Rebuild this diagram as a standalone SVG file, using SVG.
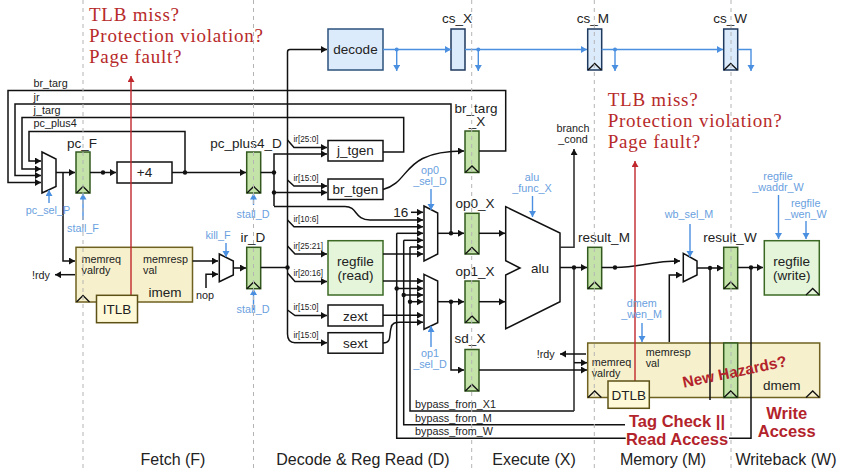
<svg xmlns="http://www.w3.org/2000/svg" width="847" height="471" viewBox="0 0 847 471">
<style>
text{font-family:"Liberation Sans",Arial,sans-serif;fill:#222;text-anchor:middle}
.l{font-size:13.5px}
.s{font-size:10.8px}
.st{font-size:10.8px;text-anchor:start}
.b{font-size:10.8px;fill:#6a9fe0}
.i{font-size:8.2px;text-anchor:start}
.p{font-size:16px}
.r{font-family:"Liberation Serif",serif;font-size:19px;letter-spacing:.76px;fill:#b72a2a;text-anchor:start}
.h{font-weight:bold;font-size:16.5px;fill:#b3232b}
.reg{fill:#c3e3a8;stroke:#33591f;stroke-width:1.5}
.ctl{fill:#dcebfc;stroke:#1f3a5f;stroke-width:1.5}
.box{fill:#fff;stroke:#111;stroke-width:1.5}
.rf{fill:#e4f5da;stroke:#3c6a25;stroke-width:1.5}
.dec{fill:#dcebfc;stroke:#2d527c;stroke-width:1.5}
.mem{fill:#f6f1cc;stroke:#6f6120;stroke-width:1.5}
.tlb{fill:#fff9d8;stroke:#5e5116;stroke-width:1.5}
.mux{fill:#fff;stroke:#111;stroke-width:1.5}
.clk{fill:none;stroke:#111;stroke-width:1.3}
.w{fill:none;stroke:#111;stroke-width:1.5}
.a{marker-end:url(#k)}
.bl{fill:none;stroke:#4a8fe0;stroke-width:1.4}
.ba{marker-end:url(#bk)}
.red{fill:none;stroke:#c0272d;stroke-width:1.4;marker-end:url(#rk)}
.g{stroke:#b4b4b4;stroke-width:1;stroke-dasharray:4 4;fill:none}
.dot{fill:#111}
.bd{fill:#4a8fe0}
</style>
<defs>
<marker id="k" markerUnits="userSpaceOnUse" markerWidth="7" markerHeight="8" refX="6" refY="3.5" orient="auto"><path d="M0 0L6 3.5L0 7z" fill="#111"/></marker>
<marker id="bk" markerUnits="userSpaceOnUse" markerWidth="7" markerHeight="8" refX="6" refY="3.5" orient="auto"><path d="M0 0L6 3.5L0 7z" fill="#4a8fe0"/></marker>
<marker id="rk" markerUnits="userSpaceOnUse" markerWidth="7" markerHeight="8" refX="6" refY="3.5" orient="auto"><path d="M0 0L6 3.5L0 7z" fill="#c0272d"/></marker>
</defs>
<rect width="847" height="471" fill="#fff"/>

<g id="imem"><rect class="mem" x="76" y="247.3" width="116.5" height="54.7"/><path class="clk" d="M76.5 302L83 295.5L89.5 302"/>
<text class="st" x="81.5" y="263">memreq</text><text class="st" x="81.5" y="274">valrdy</text><text class="st" x="143" y="263">memresp</text><text class="st" x="143" y="274">val</text><text class="l" x="165" y="297">imem</text></g>
<g id="dmem"><rect class="mem" x="587.7" y="343" width="232" height="54.5"/><path class="clk" d="M588 397.5L594.7 391L601.4 397.5"/><path class="clk" d="M806 397.5L812.7 391L819.4 397.5"/>
<text class="st" x="591.7" y="365.5">memreq</text><text class="st" x="591.7" y="376.5">valrdy</text><text class="st" x="645.7" y="355.5">memresp</text><text class="st" x="645.7" y="366.5">val</text><text class="l" x="781.7" y="390">dmem</text></g>

<g id="pc_F"><rect class="reg" x="76" y="152" width="14" height="41"/><path class="clk" d="M76.5 193L83 186.5L89.5 193"/><text class="l" x="82" y="148">pc_F</text></g>
<g id="pc_plus4_D"><rect class="reg" x="246.7" y="152" width="14" height="41"/><path class="clk" d="M247 193L253.7 186.5L260.4 193"/><text class="l" x="246" y="148">pc_plus4_D</text></g>
<g id="ir_D"><rect class="reg" x="246.7" y="247.3" width="14" height="41.4"/><path class="clk" d="M247 288.7L253.7 282L260.4 288.7"/><text class="l" x="253" y="241.5">ir_D</text></g>
<g id="plus4"><rect class="box" x="117" y="162" width="55" height="21"/><text class="l" x="144.5" y="177">+4</text></g>
<g id="decode"><rect class="dec" x="328" y="29" width="55" height="41"/><text class="l" x="355.5" y="54">decode</text></g>
<g id="j_tgen"><rect class="box" x="328" y="140.5" width="55" height="20.5"/><text class="l" x="355.5" y="155">j_tgen</text></g>
<g id="br_tgen"><rect class="box" x="328" y="179" width="55" height="20.5"/><text class="l" x="355.5" y="194">br_tgen</text></g>
<g id="regfile_read"><rect class="rf" x="328" y="240.7" width="55" height="54.3"/><text class="l" x="355.5" y="265.5">regfile</text><text class="l" x="355.5" y="280">(read)</text></g>
<g id="zext"><rect class="box" x="328" y="305" width="55" height="21"/><text class="l" x="355.5" y="320.5">zext</text></g>
<g id="sext"><rect class="box" x="328" y="332.7" width="55" height="20.5"/><text class="l" x="355.5" y="347.5">sext</text></g>
<g id="cs_X"><rect class="ctl" x="451" y="29" width="14" height="41"/><text class="l" x="457" y="23">cs_X</text></g>
<g id="cs_M"><rect class="ctl" x="587.7" y="29" width="14" height="41"/><path class="clk" d="M588 70L594.7 63.5L601.4 70"/><text class="l" x="593" y="23">cs_M</text></g>
<g id="cs_W"><rect class="ctl" x="723.7" y="29" width="14" height="41"/><path class="clk" d="M724 70L730.7 63.5L737.4 70"/><text class="l" x="730" y="23">cs_W</text></g>
<g id="br_targ_X"><rect class="reg" x="465" y="131" width="14" height="41.5"/><path class="clk" d="M465.3 172.5L472 166L478.7 172.5"/><text class="l" x="476" y="112.5">br_targ</text><text class="l" x="477" y="126">_X</text></g>
<g id="op0_X"><rect class="reg" x="465" y="213.3" width="14" height="40.7"/><path class="clk" d="M465.3 254L472 247.5L478.7 254"/><text class="l" x="475" y="208">op0_X</text></g>
<g id="op1_X"><rect class="reg" x="465" y="281" width="14" height="41.7"/><path class="clk" d="M465.3 322.7L472 316L478.7 322.7"/><text class="l" x="475" y="275.5">op1_X</text></g>
<g id="sd_X"><rect class="reg" x="465" y="349.5" width="14" height="41.5"/><path class="clk" d="M465.3 391L472 384.5L478.7 391"/><text class="l" x="470" y="343">sd_X</text></g>
<g id="result_M"><rect class="reg" x="587.7" y="247.3" width="14" height="41.4"/><path class="clk" d="M588 288.7L594.7 282L601.4 288.7"/><text class="l" x="604" y="241.5">result_M</text></g>
<g id="result_W"><rect class="reg" x="723.7" y="247.3" width="14" height="41.4"/><path class="clk" d="M724 288.7L730.7 282L737.4 288.7"/><text class="l" x="730" y="241.5">result_W</text></g>
<g id="dmem_stage_reg"><rect class="reg" x="723.7" y="343" width="14" height="54.5"/><path class="clk" d="M724 397.5L730.7 391L737.4 397.5"/></g>
<g id="regfile_write"><rect class="rf" x="764.3" y="240.7" width="55" height="54.3"/><path class="clk" d="M806 295L812.7 288.5L819.4 295"/><text class="l" x="791.7" y="265.5">regfile</text><text class="l" x="791.7" y="280">(write)</text></g>
<g id="mux_pc"><path class="mux" d="M42 152L56 159V186.5L42 193z"/></g>
<g id="mux_kill"><path class="mux" d="M219.3 254L233.3 261V275L219.3 281.7z"/></g>
<g id="mux_op0"><path class="mux" d="M424 206L437.7 213V254L424 261z"/></g>
<g id="mux_op1"><path class="mux" d="M424 274.3L437.7 281V322.7L424 329.3z"/></g>
<g id="mux_wb"><path class="mux" d="M683.3 253.3L697 261V275L683.3 281.7z"/></g>
<g id="alu"><path class="mux" d="M505.7 206.7L560 233V301.7L505.7 328.7V275L520 268L505.7 260.7z"/><text class="l" x="540" y="273">alu</text></g>

<g id="connectors">
<path class="w a" d="M479 151H505.7V90.5H8V182.5H41"/>
<path class="w a" d="M451 233.3V104H15V175.5H41"/>
<path class="w a" d="M383 152H403.7V117.5H22V169H41"/>
<path class="w a" d="M185 172.5V131.5H29V161H41"/>
<path class="w a" d="M56 172.5H75"/>
<path class="w a" d="M63 172.5V261H75"/>
<path class="w a" d="M90 172.5H116"/>
<path class="w a" d="M172 172.5H246"/>
<path class="w" d="M260.7 172.5H274"/>
<path class="w a" d="M274 206V154H327"/>
<path class="w a" d="M274 192.5H327"/>
<path class="w a" d="M274 206.5H345C358 206.5 354 220 370 220H423"/>
<path class="w" d="M260.7 267.5H287.5"/>
<path class="w" d="M290 49.5Q287.5 49.5 287.5 52V334Q287.5 342.7 295 342.7"/>
<path class="w a" d="M290 49.5H327"/>
<path class="w a" d="M295 342.7H327"/>
<path class="w a" d="M287.5 140L294 147.5H327"/>
<path class="w a" d="M287.5 180L294 186H327"/>
<path class="w a" d="M287.5 220L294 226.7H423"/>
<path class="w a" d="M287.5 246L295 254H327"/>
<path class="w a" d="M287.5 273L295 281.5H327"/>
<path class="w a" d="M287.5 310L295 315.5H327"/>
<path class="w a" d="M383 254H423"/>
<path class="w a" d="M383 281H423"/>
<path class="w a" d="M383 315.3H423"/>
<path class="w a" d="M383 343C392 343 389 335 391 328C392 323 395 322.3 400 322.3H423"/>
<path class="w a" d="M411 212.3H423"/>
<path class="w a" d="M383 189.5C412 182 400 151 464 151"/>
<path class="w a" d="M396.7 233.3H423"/>
<path class="w a" d="M403.7 240.3H423"/>
<path class="w a" d="M410 247H423"/>
<path class="w a" d="M396.7 288.5H423"/>
<path class="w a" d="M403.7 295H423"/>
<path class="w a" d="M410 301.7H423"/>
<path class="w" d="M396.7 233.3V438.3H625.7"/>
<path class="w" d="M403.7 240.3V424.7H625"/>
<path class="w" d="M410 247V411H574"/>
<path class="w" d="M729 438.3H751V267.5"/>
<path class="w a" d="M437.7 233.3H464"/>
<path class="w a" d="M437.7 301.7H464"/>
<path class="w a" d="M451 301.7V370H464"/>
<path class="w a" d="M479 233.3H505"/>
<path class="w a" d="M479 301.7H505"/>
<path class="w a" d="M560 267.5H587"/>
<path class="w a" d="M560 247.3H574V149" style="stroke:#333;stroke-width:1.6"/>
<path class="w" d="M574 267.5V411" style="stroke:#333;stroke-width:1.6"/>
<path class="w a" d="M574 362.7H587"/>
<path class="w a" d="M479 370H587"/>
<path class="w a" d="M586 354H560"/>
<path class="w a" d="M601.7 267.5H615C640 267.5 650 261 680 261"/>
<path class="w a" d="M669.3 342V275H682"/>
<path class="w a" d="M697 268H723"/>
<path class="w" d="M710 268V400"/>
<path class="w a" d="M737.7 267.5H763"/>
<path class="w a" d="M192.5 261H218"/>
<path class="w a" d="M206 288V274.3H218"/>
<path class="w a" d="M233.3 268H246"/>
<path class="w a" d="M75 274.7H55"/>
<circle class="dot" cx="103" cy="172.5" r="2.2"/><circle class="dot" cx="185" cy="172.5" r="2.2"/><circle class="dot" cx="274" cy="172.5" r="2.2"/><circle class="dot" cx="274" cy="192.5" r="2.2"/><circle class="dot" cx="287.5" cy="267.5" r="2.2"/><circle class="dot" cx="451" cy="233.3" r="2.2"/><circle class="dot" cx="451" cy="301.7" r="2.2"/><circle class="dot" cx="396.7" cy="288.5" r="2.2"/><circle class="dot" cx="403.7" cy="295" r="2.2"/><circle class="dot" cx="410" cy="301.7" r="2.2"/><circle class="dot" cx="574" cy="267.5" r="2.2"/><circle class="dot" cx="615" cy="267.5" r="2.2"/><circle class="dot" cx="710" cy="268" r="2.2"/><circle class="dot" cx="751" cy="267.5" r="2.2"/>

<path class="bl ba" d="M383 49.5H451"/><path class="bl ba" d="M396.7 49.5V71"/>
<path class="bl ba" d="M465 49.5H587"/><path class="bl ba" d="M478.3 49.5V71"/>
<path class="bl ba" d="M601.7 49.5H723"/><path class="bl ba" d="M615 49.5V71"/>
<path class="bl ba" d="M737.7 49.5H751V71"/>
<path class="bl ba" d="M49 203V190"/><path class="bl ba" d="M83 220V193.5"/><path class="bl ba" d="M253.5 205V193.5"/><path class="bl ba" d="M253.5 310V289"/><path class="bl ba" d="M226 243V257"/>
<path class="bl ba" d="M431 189V210"/><path class="bl ba" d="M431 347V326"/><path class="bl ba" d="M532.5 196V217"/>
<path class="bl ba" d="M642 323V342"/><path class="bl ba" d="M690 224V257"/><path class="bl ba" d="M778.5 195V239"/><path class="bl ba" d="M806 221V239"/>
<circle class="bd" cx="396.7" cy="49.5" r="2"/><circle class="bd" cx="478.3" cy="49.5" r="2"/><circle class="bd" cx="615" cy="49.5" r="2"/>

<path class="red" d="M131 295.5V76"/>
<path class="red" d="M635 381V161"/>

<text class="st" x="33.5" y="87">br_targ</text><text class="st" x="33.5" y="100.5">jr</text><text class="st" x="33.5" y="114">j_targ</text><text class="st" x="33.5" y="127">pc_plus4</text>
<text class="i" x="293.5" y="142">ir[25:0]</text><text class="i" x="293.5" y="181">ir[15:0]</text><text class="i" x="293.5" y="222">ir[10:6]</text><text class="i" x="293.5" y="249">ir[25:21]</text><text class="i" x="293.5" y="276">ir[20:16]</text><text class="i" x="293.5" y="310">ir[15:0]</text><text class="i" x="293.5" y="338">ir[15:0]</text>
<text class="st" x="415" y="408">bypass_from_X1</text><text class="st" x="415" y="421.5">bypass_from_M</text><text class="st" x="415" y="435">bypass_from_W</text>
<text class="l" x="400.7" y="217">16</text>
<text class="s" x="41" y="279">!rdy</text><text class="s" x="205" y="299">nop</text><text class="s" x="545.7" y="358">!rdy</text>
<text class="s" x="573" y="132">branch</text><text class="s" x="573" y="143">_cond</text>
<text class="b" x="48" y="214">pc_sel_P</text><text class="b" x="83" y="232">stall_F</text><text class="b" x="253" y="218">stall_D</text><text class="b" x="253" y="313">stall_D</text><text class="b" x="218" y="239">kill_F</text>
<text class="b" x="430" y="174">op0</text><text class="b" x="430" y="185">_sel_D</text><text class="b" x="430" y="357">op1</text><text class="b" x="430" y="368">_sel_D</text>
<text class="b" x="532" y="181">alu</text><text class="b" x="532" y="192">_func_X</text>
<text class="b" x="641.7" y="307">dmem</text><text class="b" x="641.7" y="318">_wen_M</text><text class="b" x="689" y="218">wb_sel_M</text>
<text class="b" x="778" y="180">regfile</text><text class="b" x="778" y="191">_waddr_W</text><text class="b" x="805.7" y="207">regfile</text><text class="b" x="805.7" y="218">_wen_W</text>
</g>

<g id="ITLB"><rect class="tlb" x="96.5" y="295.3" width="41" height="27.4"/><text class="l" x="117" y="314">ITLB</text></g>
<g id="DTLB"><rect class="tlb" x="608" y="381" width="41.3" height="27.3"/><text class="l" x="628.7" y="400">DTLB</text></g>

<text class="r" x="89" y="21">TLB miss?</text><text class="r" x="89" y="42.2">Protection violation?</text><text class="r" x="89" y="63.4">Page fault?</text>
<text class="r" x="607.7" y="106">TLB miss?</text><text class="r" x="607.7" y="127.2">Protection violation?</text><text class="r" x="607.7" y="148.4">Page fault?</text>
<text class="h" x="677" y="426.5">Tag Check ||</text><text class="h" x="677" y="445">Read Access</text>
<text class="h" x="786.7" y="419">Write</text><text class="h" x="786.7" y="437">Access</text>
<text class="h" transform="translate(735.7 377) rotate(-11.8)" style="font-size:15.5px">New Hazards?</text>

<text class="p" x="173" y="465">Fetch (F)</text><text class="p" x="363" y="465">Decode &amp; Reg Read (D)</text><text class="p" x="534" y="465">Execute (X)</text><text class="p" x="663" y="465">Memory (M)</text><text class="p" x="786" y="465">Writeback (W)</text>

<g id="stage_guides"><path class="g" d="M83 0V471"/><path class="g" d="M253.5 0V471"/><path class="g" d="M471.7 0V471"/><path class="g" d="M594.3 0V471"/><path class="g" d="M731 0V471"/></g>
</svg>
